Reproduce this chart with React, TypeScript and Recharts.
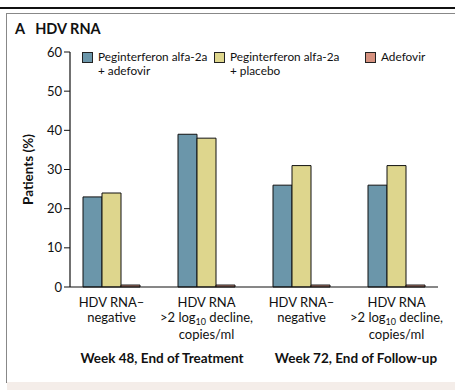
import React from 'react';
import { BarChart, Bar, XAxis, YAxis } from 'recharts';

// ─── Data ────────────────────────────────────────────────────────────────────

const categories = ['w48-neg', 'w48-decline', 'w72-neg', 'w72-decline'];
const combo = [23, 39, 26, 26];        // Peginterferon alfa-2a + adefovir
const placebo = [24, 38, 31, 31];      // Peginterferon alfa-2a + placebo
const adefovir = [0.5, 0.5, 0.5, 0.5]; // Adefovir
const yTicks = [0, 10, 20, 30, 40, 50, 60];
const periodLabels = ['Week 48, End of Treatment', 'Week 72, End of Follow-up'];

const seriesMeta = [
    { key: 'combo', lines: ['Peginterferon alfa-2a', '+ adefovir'], color: '#6b96aa', width: 132 },
    { key: 'placebo', lines: ['Peginterferon alfa-2a', '+ placebo'], color: '#ded68d', width: 151 },
    { key: 'adefovir', lines: ['Adefovir'], color: '#d5917f', width: 80 },
];

const chartData = categories.map((c, i) => ({
    cat: c,
    combo: combo[i],
    placebo: placebo[i],
    adefovir: adefovir[i],
}));

const FONT = 'Lato, "Noto Sans", sans-serif';

// ─── Pieces ──────────────────────────────────────────────────────────────────

function CategoryTick({ x, y, payload }: any) {
    const isNeg = String(payload.value).endsWith('neg');
    const common = { textAnchor: 'middle' as const, fontSize: 13, fill: '#111', fontFamily: FONT };
    if (isNeg) {
        return (
            <g transform={`translate(${x},${y})`}>
                <text {...common} y={12}>HDV RNA–</text>
                <text {...common} y={27}>negative</text>
            </g>
        );
    }
    return (
        <g transform={`translate(${x},${y})`}>
            <text {...common} y={12}>HDV RNA</text>
            <text {...common} y={27}>
                {'>2 log'}
                <tspan fontSize={9} dy={2.5}>10</tspan>
                <tspan dy={-2.5}>{' decline,'}</tspan>
            </text>
            <text {...common} y={44}>copies/ml</text>
        </g>
    );
}

function LegendBox() {
    return (
        <div style={{ display: 'flex', fontFamily: FONT, fontSize: 11.8, color: '#111', lineHeight: '14px', whiteSpace: 'nowrap' }}>
            {seriesMeta.map((s) => (
                <div key={s.key} style={{ display: 'flex', width: s.width }}>
                    <span style={{
                        width: 9, height: 9, marginTop: 2, marginRight: 5,
                        background: s.color, border: '1px solid #222', flexShrink: 0,
                    }} />
                    <div>
                        {s.lines.map((l) => <div key={l}>{l}</div>)}
                    </div>
                </div>
            ))}
        </div>
    );
}

// ─── App ─────────────────────────────────────────────────────────────────────

export default function App() {
    return (
        <div style={{ position: 'fixed', left: 0, top: 0, width: 455, height: 390, background: '#fff', overflow: 'hidden' }}>
            {/* frame */}
            <div style={{ position: 'absolute', left: 0, top: 7, width: 455, height: 2, background: '#111' }} />
            <div style={{
                position: 'absolute', left: 6, top: 13, width: 460, height: 368,
                borderTop: '1px solid #888', borderLeft: '1px solid #888', borderBottom: '1px solid #777',
            }} />
            <div style={{ position: 'absolute', left: 7, top: 382, width: 455, height: 8, background: '#f4ede9' }} />

            {/* title */}
            <div style={{
                position: 'absolute', left: 15, top: 20, fontFamily: FONT, fontWeight: 700,
                fontSize: 14.5, color: '#111', whiteSpace: 'pre',
            }}>
                {'A   HDV RNA'}
            </div>

            <div style={{ position: 'absolute', left: 0, top: 0 }}>
                <BarChart
                    width={455}
                    height={390}
                    data={chartData}
                    margin={{ top: 52, right: 17, bottom: 43, left: 0 }}
                    barGap={0}
                    barSize={19}
                >
                    <XAxis
                        dataKey="cat"
                        interval={0}
                        tickLine={false}
                        axisLine={{ stroke: '#111', strokeWidth: 1.2 }}
                        tick={<CategoryTick />}
                        padding={{ left: -6, right: -6 }}
                        height={60}
                    />
                    <YAxis
                        domain={[0, 60]}
                        ticks={yTicks}
                        width={70}
                        tickSize={6}
                        tickLine={{ stroke: '#111' }}
                        axisLine={{ stroke: '#111', strokeWidth: 1.2 }}
                        tick={{ fontSize: 13, fill: '#111', fontFamily: FONT }}
                        label={{
                            value: 'Patients (%)',
                            angle: -90,
                            position: 'insideLeft',
                            offset: 28,
                            style: { textAnchor: 'middle', fontSize: 13.5, fontWeight: 700, fill: '#111', fontFamily: FONT },
                        }}
                    />
                    {seriesMeta.map((s) => (
                        <Bar
                            key={s.key}
                            dataKey={s.key}
                            fill={s.color}
                            stroke="#111"
                            strokeWidth={1}
                            isAnimationActive={false}
                        />
                    ))}
                </BarChart>
            </div>

            {/* legend */}
            <div style={{ position: 'absolute', left: 82, top: 50 }}>
                <LegendBox />
            </div>

            {/* period labels */}
            {periodLabels.map((p, i) => (
                <div key={p} style={{
                    position: 'absolute', top: 350, left: i === 0 ? 62 : 256, width: 200,
                    textAlign: 'center', fontFamily: FONT, fontWeight: 700, fontSize: 13.5, color: '#111',
                    whiteSpace: 'nowrap',
                }}>
                    {p}
                </div>
            ))}
        </div>
    );
}
